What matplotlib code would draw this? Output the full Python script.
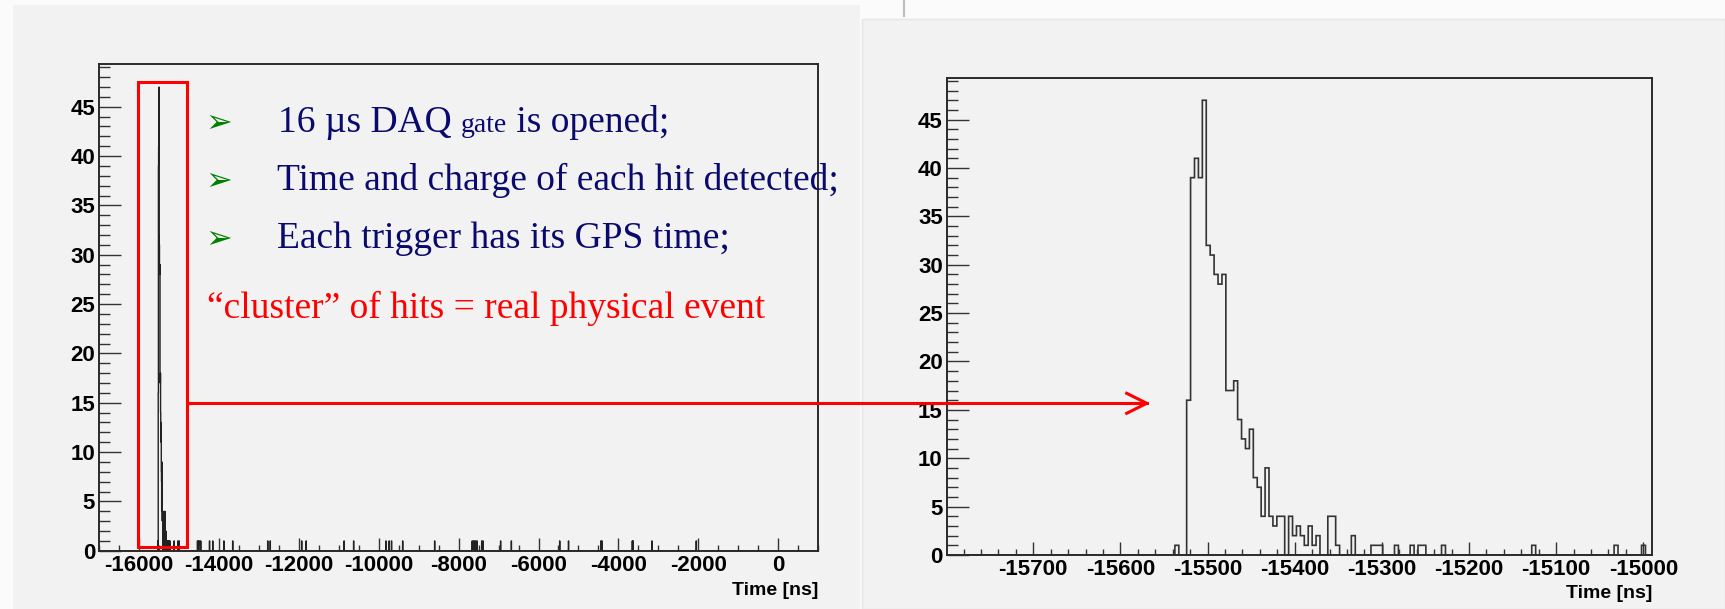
import numpy as np
import matplotlib
matplotlib.use('Agg')
import matplotlib.pyplot as plt
from matplotlib.ticker import MultipleLocator
from matplotlib.patches import Rectangle

plt.rcParams['font.family'] = ['Liberation Sans', 'DejaVu Sans']
plt.rcParams['font.weight'] = 'bold'
plt.rcParams['axes.unicode_minus'] = False

# histogramma dei tempi dei hit: 4000 bin da -17000 a 1000 ns (4.5 ns)
t_min = -17000.0
t_max = 1000.0
n_bins = 4000

# cluster: conteggi consecutivi a partire dal bin che inizia a -15537.5 ns
cluster_start = -15537.5
cluster_counts = [1, 0, 0, 16, 39, 41, 39, 47, 32, 31, 29, 28, 29, 17, 17, 18,
                  14, 12, 11, 13, 8, 7, 4, 9, 4, 3, 4, 4, 0, 4, 2, 3, 2, 1, 3,
                  1, 2, 0, 0, 4, 4, 1, 0, 0, 0, 2, 0, 0, 0, 0, 1, 1, 1, 0, 0,
                  0, 1, 0, 0, 0, 1, 0, 1, 1, 0, 0, 0, 0, 1]

# hit isolati (1 conteggio ciascuno), tempi in ns
tail_times = [-15126.0, -15031.0, -15000.0]
noise_times = [-14540, -14520, -14490, -14460, -14240, -14160, -13880, -13660,
               -12780, -12720, -11930, -11820, -10870, -10630, -9820, -9740,
               -9680, -9400, -8600, -7660, -7630, -7600, -7570, -7540, -7420,
               -7390, -6950, -6680, -5470, -5250, -4440, -4410, -3650, -3630,
               -3160, -2050]

bullets = ['16 \u00b5s DAQ ', 'Time and charge of each hit detected;',
           'Each trigger has its GPS time;']
red_line = '\u201ccluster\u201d of hits = real physical event'

W, H = 1725, 609
bg = '#f2f2f2'
navy = '#0a0a6e'


def fr(x, y):
    # pixel (origine in alto a sinistra) -> frazione di figura
    return x / W, 1 - y / H


def make_axes(l, t, r, b):
    return fig.add_axes([l / W, 1 - b / H, (r - l) / W, (b - t) / H])


def style_axes(ax, xmaj, xmin):
    ax.set_facecolor(bg)
    for s in ax.spines.values():
        s.set_color('#2a2a2a')
        s.set_linewidth(1.4)
    ax.xaxis.set_major_locator(MultipleLocator(xmaj))
    ax.xaxis.set_minor_locator(MultipleLocator(xmin))
    ax.yaxis.set_major_locator(MultipleLocator(5))
    ax.yaxis.set_minor_locator(MultipleLocator(1))
    ax.tick_params(axis='both', which='both', direction='in', top=False,
                   right=False, color='#333333', width=1.0, labelsize=16)
    ax.tick_params(axis='x', which='major', length=9.4, pad=3)
    ax.tick_params(axis='x', which='minor', length=4.3)
    ax.tick_params(axis='y', which='major', length=15.8, pad=3)
    ax.tick_params(axis='y', which='minor', length=7.9)
    ax.set_ylim(0, 49.3)


# costruzione del vettore dei conteggi
edges = np.linspace(t_min, t_max, n_bins + 1)
bw = (t_max - t_min) / n_bins
counts = np.zeros(n_bins)
i0 = int(round((cluster_start - t_min) / bw))
counts[i0:i0 + len(cluster_counts)] = cluster_counts
counts += np.histogram(tail_times + noise_times, bins=edges)[0]

fig = plt.figure(figsize=(W / 100, H / 100), dpi=100)
fig.patch.set_facecolor('#fbfbfb')

# pannelli di sfondo (slide)
fig.patches.append(Rectangle(fr(12.7, 609), 847.3 / W, 604 / H,
                             transform=fig.transFigure, facecolor=bg,
                             edgecolor='none', zorder=-5))
fig.patches.append(Rectangle(fr(862, 609), 863 / W, 590 / H,
                             transform=fig.transFigure, facecolor=bg,
                             edgecolor='#e6e6e6', lw=1, zorder=-5))

# pannello sinistro: intero gate
ax1 = make_axes(99.3, 64.3, 818, 550.7)
ax1.stairs(counts, edges, color='#222222', lw=1.0)
ax1.set_xlim(-17000, 1000)
style_axes(ax1, 2000, 500)
ax1.text(1.0, -0.081, 'Time [ns]', transform=ax1.transAxes, ha='right',
         va='center', fontsize=14)

# pannello destro: zoom sul cluster
ax2 = make_axes(947, 78, 1652, 555)
ax2.stairs(counts, edges, color='#333333', lw=1.2)
ax2.set_xlim(-15799, -14990)
style_axes(ax2, 100, 20)
ax2.text(1.0, -0.08, 'Time [ns]', transform=ax2.transAxes, ha='right',
         va='center', fontsize=14)

# livello di annotazioni in pixel
ov = fig.add_axes([0, 0, 1, 1], zorder=10)
ov.set_xlim(0, W)
ov.set_ylim(H, 0)
ov.axis('off')
ov.patch.set_alpha(0)
ov.plot([904, 904], [0, 16], color='#bdbdbd', lw=1.5)
ov.add_patch(Rectangle((138.3, 81.7), 48.4, 465.6, fill=False,
                       edgecolor='red', lw=2.2))
ov.plot([186.7, 1146.7], [403, 403], color='red', lw=2.2)
ov.plot([1126.7, 1146.7, 1126.7], [393.3, 403.3, 413.3], color='red', lw=2.2)

# testo
serif = dict(fontfamily='Liberation Serif', fontweight='normal',
             va='baseline')
base_y = [131.7, 190, 248.3]
for y in base_y:
    ov.text(205, y, '\u27a2', fontfamily='DejaVu Sans', fontweight='normal',
            fontsize=23, color='green', va='baseline', ha='left')

fig.canvas.draw()
r = fig.canvas.get_renderer()
t1 = ov.text(278, base_y[0], bullets[0], fontsize=27, color=navy, **serif)
x = t1.get_window_extent(r).x1
t2 = fig.text(x / W, 1 - base_y[0] / H, 'gate', fontsize=20, color=navy,
              zorder=11, **serif)
x = t2.get_window_extent(r).x1
fig.text(x / W, 1 - base_y[0] / H, ' is opened;', fontsize=27, color=navy,
         zorder=11, **serif)
ov.text(277, base_y[1], bullets[1], fontsize=27, color=navy, **serif)
ov.text(277, base_y[2], bullets[2], fontsize=27, color=navy, **serif)
ov.text(206.7, 318, red_line, fontsize=27, color='red', **serif)

fig.savefig('out.png', dpi=100, facecolor=fig.get_facecolor())
